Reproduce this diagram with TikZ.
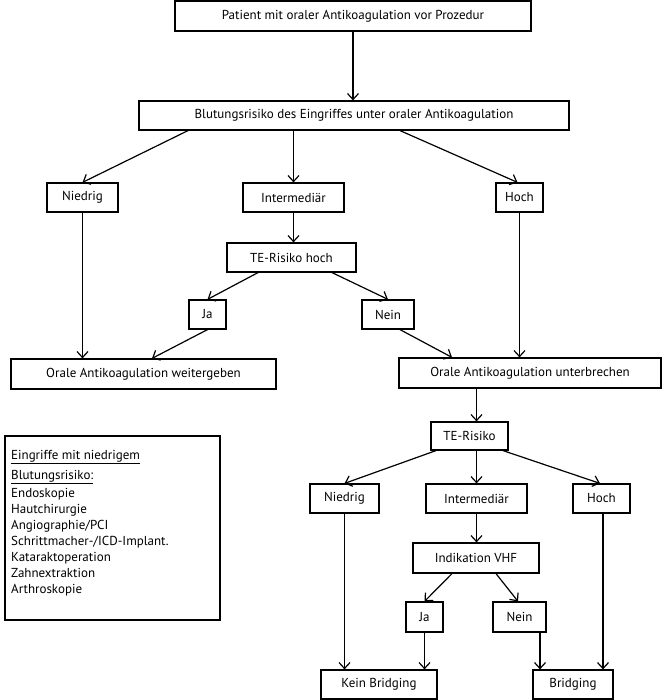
\documentclass[tikz,border=0pt]{standalone}
\usepackage{fontspec}
\setmainfont{PT Sans}
\usetikzlibrary{arrows.meta}
\begin{document}
\begin{tikzpicture}[x=1pt,y=-1pt,
  box/.style={draw, line width=1.2pt, inner sep=0pt, font=\fontsize{13}{15}\selectfont, minimum height=29pt},
  arr/.style={line width=1.2pt, -{Straight Barb[length=6pt,width=11pt,line width=1.2pt]}}]
\useasboundingbox (0,0) rectangle (663,700);
\node[box, minimum width=356, minimum height=30] (p1) at (353,16) {Patient mit oraler Antikoagulation vor Prozedur};
\node[box, minimum width=430] (b2) at (354,115.5) {Blutungsrisiko des Eingriffes unter oraler Antikoagulation};
\node[box, minimum width=71] (n1) at (82.5,197.5) {Niedrig};
\node[box, minimum width=101] (i1) at (293.5,197.5) {Intermediär};
\node[box, minimum width=47] (h1) at (519.5,197.5) {Hoch};
\node[box, minimum width=129] (te1) at (291.5,257.5) {TE-Risiko hoch};
\node[box, minimum width=37] (ja1) at (207.5,314.5) {Ja};
\node[box, minimum width=52] (ne1) at (388,314.5) {Nein};
\node[box, minimum width=265, minimum height=30] (ow) at (143.5,374) {Orale Antikoagulation weitergeben};
\node[box, minimum width=262, minimum height=30] (ou) at (530,373) {Orale Antikoagulation unterbrechen};
\node[box, minimum width=77, minimum height=28] (te2) at (469.5,436) {TE-Risiko};
\node[box, minimum width=69] (n2) at (344.5,498.5) {Niedrig};
\node[box, minimum width=101] (i2) at (476.5,498.5) {Intermediär};
\node[box, minimum width=57] (h2) at (601.5,498.5) {Hoch};
\node[box, minimum width=126, minimum height=30] (vhf) at (476,558) {Indikation VHF};
\node[box, minimum width=37, minimum height=30] (ja2) at (424.5,617) {Ja};
\node[box, minimum width=53, minimum height=30] (ne2) at (519.5,617) {Nein};
\node[box, minimum width=116] (kb) at (379,684.5) {Kein Bridging};
\node[box, minimum width=80] (br) at (573,684.5) {Bridging};
\node[box, minimum width=215, minimum height=184] (leg) at (112.5,528) {};
\node[anchor=north west, align=left, inner sep=0pt, font=\fontsize{13}{16}\selectfont] (legt) at (11,450)
 {\underline{Eingriffe mit niedrigem}\\[4pt] \underline{Blutungsrisiko:}\\[2pt] Endoskopie\\ Hautchirurgie\\ Angiographie/PCI\\ Schrittmacher-/ICD-Implant.\\ Kataraktoperation\\ Zahnextraktion\\ Arthroskopie};
\draw[arr] (p1.south) -- (p1.south |- b2.north);
\draw[arr] ([xshift=-166]b2.south) -- (n1.north);
\draw[arr] (b2.south -| i1.north) -- (i1.north);
\draw[arr] ([xshift=46]b2.south) -- ([xshift=-2]h1.north);
\draw[arr] (i1.south) -- (i1.south |- te1.north);
\draw[arr] ([xshift=-33.5]te1.south) -- (ja1.north);
\draw[arr] ([xshift=40.5]te1.south) -- (ne1.north);
\draw[arr] (n1.south) -- (n1.south |- ow.north);
\draw[arr] (ja1.south) -- ([xshift=8.5]ow.north);
\draw[arr] ([xshift=12]ne1.south) -- ([xshift=-78]ou.north);
\draw[arr] (h1.south) -- (h1.south |- ou.north);
\draw[arr] (ou.south -| i2.north) -- (te2.north -| i2.north);
\draw[arr] ([xshift=-33.5]te2.south) -- (n2.north);
\draw[arr] (te2.south -| i2.north) -- (i2.north);
\draw[arr] ([xshift=33.5]te2.south) -- ([xshift=-1.5]h2.north);
\draw[arr] (i2.south) -- (i2.south |- vhf.north);
\draw[arr] ([xshift=-24]vhf.south) -- (ja2.north);
\draw[arr] ([xshift=20]vhf.south) -- ([xshift=-1.5]ne2.north);
\draw[arr] (n2.south) -- (n2.south |- kb.north);
\draw[arr] (ja2.south) -- (ja2.south |- kb.north);
\draw[arr] ([xshift=20.5]ne2.south) -- ([xshift=20.5]ne2.south |- br.north);
\draw[arr] ([xshift=1.5]h2.south) -- ([xshift=1.5]h2.south |- br.north);
\end{tikzpicture}
\end{document}
